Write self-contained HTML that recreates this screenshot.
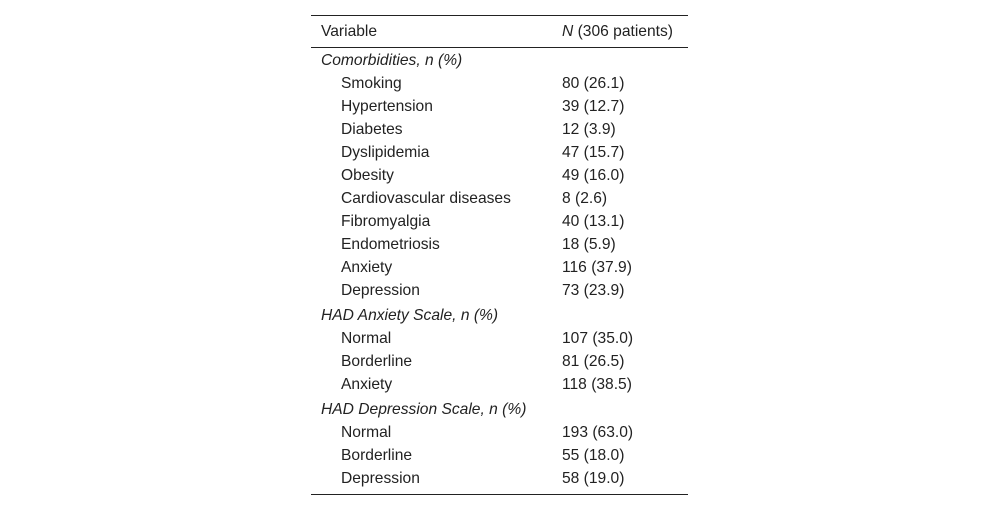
<!DOCTYPE html>
<html><head><meta charset="utf-8"><style>
body{margin:0;width:1000px;height:511px;background:#fff;position:relative;font-family:"Liberation Sans",sans-serif;font-size:15.6px;color:#222;overflow:hidden}
.l{position:absolute;left:311px;width:377px;height:1px;background:#222}
.t{position:absolute;line-height:16px;white-space:nowrap;margin-top:1px}
i{font-style:italic}
</style></head><body>
<div class="l" style="top:15px"></div>
<div class="l" style="top:47px"></div>
<div class="l" style="top:494px"></div>
<div class="t" style="left:321px;top:23px">Variable</div>
<div class="t" style="left:562px;top:23px"><i>N</i> (306 patients)</div>

<div class="t" style="left:321px;top:52px"><i>Comorbidities, n (%)</i></div>
<div class="t" style="left:341px;top:75px">Smoking</div><div class="t" style="left:562px;top:75px">80 (26.1)</div>
<div class="t" style="left:341px;top:98px">Hypertension</div><div class="t" style="left:562px;top:98px">39 (12.7)</div>
<div class="t" style="left:341px;top:121px">Diabetes</div><div class="t" style="left:562px;top:121px">12 (3.9)</div>
<div class="t" style="left:341px;top:144px">Dyslipidemia</div><div class="t" style="left:562px;top:144px">47 (15.7)</div>
<div class="t" style="left:341px;top:167px">Obesity</div><div class="t" style="left:562px;top:167px">49 (16.0)</div>
<div class="t" style="left:341px;top:190px">Cardiovascular diseases</div><div class="t" style="left:562px;top:190px">8 (2.6)</div>
<div class="t" style="left:341px;top:213px">Fibromyalgia</div><div class="t" style="left:562px;top:213px">40 (13.1)</div>
<div class="t" style="left:341px;top:236px">Endometriosis</div><div class="t" style="left:562px;top:236px">18 (5.9)</div>
<div class="t" style="left:341px;top:259px">Anxiety</div><div class="t" style="left:562px;top:259px">116 (37.9)</div>
<div class="t" style="left:341px;top:282px">Depression</div><div class="t" style="left:562px;top:282px">73 (23.9)</div>

<div class="t" style="left:321px;top:307px"><i>HAD Anxiety Scale, n (%)</i></div>
<div class="t" style="left:341px;top:330px">Normal</div><div class="t" style="left:562px;top:330px">107 (35.0)</div>
<div class="t" style="left:341px;top:353px">Borderline</div><div class="t" style="left:562px;top:353px">81 (26.5)</div>
<div class="t" style="left:341px;top:376px">Anxiety</div><div class="t" style="left:562px;top:376px">118 (38.5)</div>

<div class="t" style="left:321px;top:401px"><i>HAD Depression Scale, n (%)</i></div>
<div class="t" style="left:341px;top:424px">Normal</div><div class="t" style="left:562px;top:424px">193 (63.0)</div>
<div class="t" style="left:341px;top:447px">Borderline</div><div class="t" style="left:562px;top:447px">55 (18.0)</div>
<div class="t" style="left:341px;top:470px">Depression</div><div class="t" style="left:562px;top:470px">58 (19.0)</div>
</body></html>
